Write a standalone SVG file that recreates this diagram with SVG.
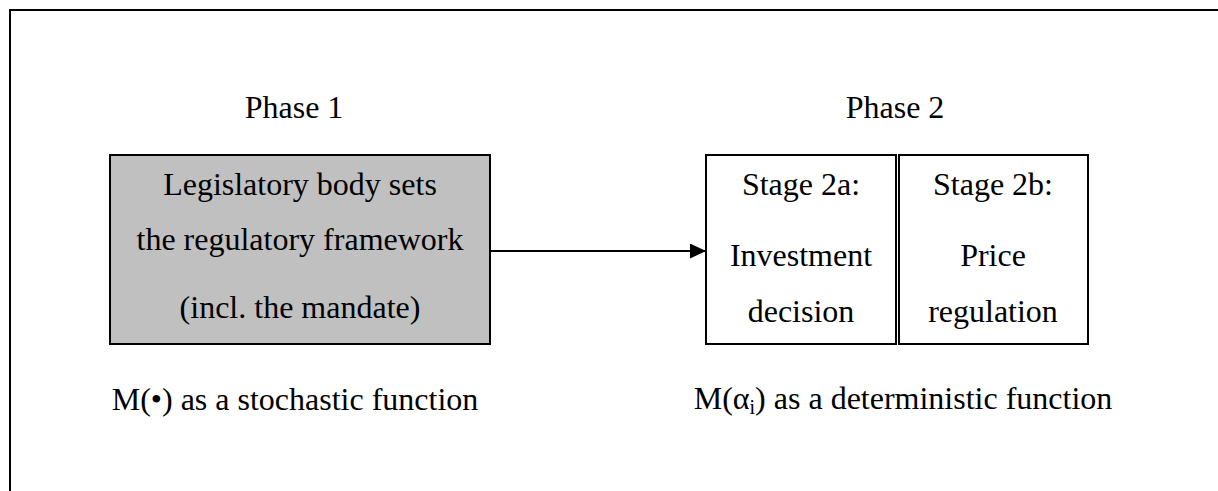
<svg xmlns="http://www.w3.org/2000/svg" width="1218" height="491" viewBox="0 0 1218 491">
<style>
text{font-family:"Liberation Serif","Times New Roman",serif;font-size:32px;fill:#000;text-anchor:middle}
.box{stroke:#000;stroke-width:2}
</style>
<defs>
<marker id="ah" markerWidth="16" markerHeight="16" refX="16" refY="7.5" orient="auto" markerUnits="userSpaceOnUse">
<path d="M0,0 L16,7.5 L0,15 Z" fill="#000"/>
</marker>
</defs>
<rect width="1218" height="491" fill="#fff"/>
<path d="M10,500 L10,10 L1230,10" fill="none" stroke="#000" stroke-width="2"/>
<g id="phase1">
<text x="294" y="118">Phase 1</text>
<rect class="box" x="110" y="155" width="380" height="189" fill="#c0c0c0"/>
<text x="300" y="195">Legislatory body sets</text>
<text x="300" y="250">the regulatory framework</text>
<text x="300" y="318">(incl. the mandate)</text>
<text x="295" y="410">M(•) as a stochastic function</text>
</g>
<g id="phase2">
<text x="895" y="118">Phase 2</text>
<text x="903" y="409">M(α<tspan font-size="20" dy="5">i</tspan><tspan dy="-5">) as a deterministic function</tspan></text>
</g>
<g id="stage2a">
<rect class="box" x="706" y="155" width="190" height="189" fill="#fff"/>
<text x="801" y="195">Stage 2a:</text>
<text x="801" y="266">Investment</text>
<text x="801" y="322">decision</text>
</g>
<g id="stage2b">
<rect class="box" x="899" y="155" width="189" height="189" fill="#fff"/>
<text x="993" y="195">Stage 2b:</text>
<text x="993" y="266">Price</text>
<text x="993" y="322">regulation</text>
</g>
<g id="connectors">
<line x1="490" y1="251" x2="706" y2="251" stroke="#000" stroke-width="2" marker-end="url(#ah)"/>
</g>
</svg>
